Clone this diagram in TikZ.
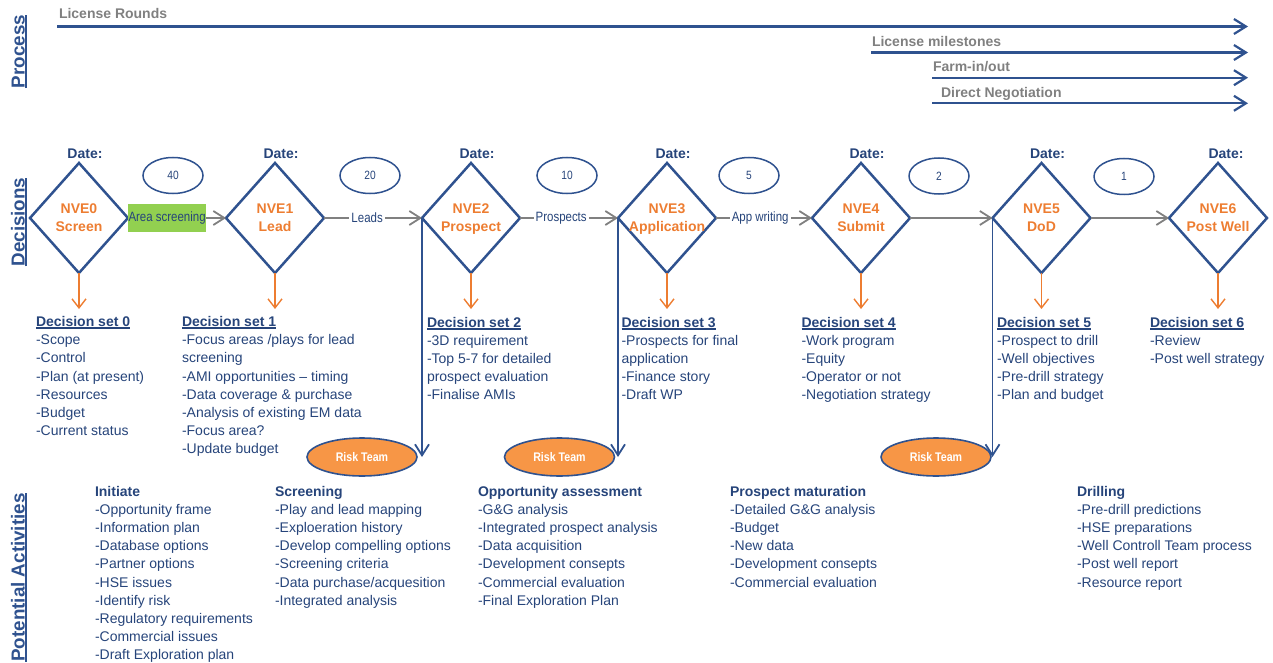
\documentclass[tikz,border=0pt]{standalone}
\usepackage{fontspec}
\setmainfont{Liberation Sans}
\newfontfamily\narrowsf[FakeStretch=0.85]{Liberation Sans}
\usetikzlibrary{shapes.geometric,arrows.meta}

\definecolor{lineblue}{RGB}{47,82,143}
\definecolor{txtblue}{RGB}{38,68,122}
\definecolor{nveorange}{RGB}{237,125,49}
\definecolor{riskorange}{RGB}{247,150,70}
\definecolor{flowgray}{RGB}{128,128,128}
\definecolor{areagreen}{RGB}{146,208,80}

% underline drawn as a rule just below the baseline
\newcommand\ulbox[1]{\setbox0\hbox{#1}\leavevmode\rlap{\vrule width\wd0 height -0.9pt depth 2.5pt}\box0}
% stacked lines, baseline of the block = baseline of the first line
\newcommand\textstack[1]{\vtop{\baselineskip=18.2pt\lineskiplimit=-100pt\lineskip=0pt #1}}
\newcommand\txl[1]{\hbox{#1}}
\newcommand\sethead[1]{\hbox{\bfseries\ulbox{#1}}}
\newcommand\acthead[1]{\hbox{\bfseries #1}}
% two centred lines inside a decision diamond
\newcommand\ctwo[2]{\vtop{\baselineskip=18.4pt\lineskiplimit=-100pt\lineskip=0pt\hbox to 0pt{\hss#1\hss}\hbox to 0pt{\hss#2\hss}}}

\begin{document}
\begin{tikzpicture}[x=1pt,y=-1pt,
  every node/.style={inner sep=0pt, outer sep=0pt},
  track/.style={draw=lineblue, line width=2.2pt, -{Straight Barb[length=12pt,width=15pt]}},
  tracklabel/.style={anchor=base west, text=flowgray, font=\bfseries\fontsize{14}{16}\selectfont},
  sidetitle/.style={rotate=90, anchor=base, text=lineblue, font=\bfseries\fontsize{18.8}{20}\selectfont},
  decision/.style={draw=lineblue, line width=2.5pt, diamond, minimum width=98pt, minimum height=110pt},
  nvetext/.style={anchor=base, text=nveorange, font=\bfseries\fontsize{14}{18.4}\selectfont},
  datetext/.style={anchor=base, text=txtblue, font=\bfseries\fontsize{14}{16}\selectfont},
  count/.style={draw=lineblue, line width=1.5pt, ellipse, minimum width=60pt, minimum height=36pt, text=txtblue, font=\narrowsf\fontsize{12}{14}\selectfont},
  risk/.style={draw=lineblue, line width=1.6pt, ellipse, fill=riskorange, minimum width=110pt, minimum height=38pt, text=white, font=\narrowsf\bfseries\fontsize{12.5}{14}\selectfont},
  flow/.style={draw=flowgray, line width=1.8pt, -{Straight Barb[length=11pt,width=14pt]}},
  flowlabel/.style={fill=white, inner xsep=2pt, inner ysep=1pt, text=txtblue, font=\narrowsf\fontsize{13.5}{15}\selectfont},
  outcome/.style={draw=nveorange, line width=1.4pt, -{Straight Barb[length=9pt,width=14pt]}},
  review/.style={draw=lineblue, line width=1.8pt, -{Straight Barb[length=11pt,width=14pt]}},
  listtext/.style={anchor=base west, text=txtblue, font=\fontsize{14}{18.2}\selectfont}
]
\useasboundingbox (0,0) rectangle (1273,663);

% ---------------- Process ----------------
\node[sidetitle] (tproc) at (24.5,51.5) {\ulbox{Process}};

\coordinate (lrS) at (57,26.5);   \coordinate (lrE) at (1248,26.5);
\coordinate (lmS) at (871,52.5);  \coordinate (lmE) at (1248,52.5);
\coordinate (fiS) at (932,77.7);  \coordinate (fiE) at (1248,77.7);
\coordinate (dnS) at (932,103.3); \coordinate (dnE) at (1248,103.3);
\draw[track] (lrS) -- (lrE);
\draw[track] (lmS) -- (lmE);
\draw[track] (fiS) -- (fiE);
\draw[track] (dnS) -- (dnE);
\node[tracklabel] (lrT) at (59,18.3) {License Rounds};
\node[tracklabel] (lmT) at (872,46.7) {License milestones};
\node[tracklabel] (fiT) at (933,71.7) {Farm-in/out};
\node[tracklabel] (dnT) at (941,98) {Direct Negotiation};

% ---------------- Decisions ----------------
\node[sidetitle] (tdec) at (24.5,222) {\ulbox{Decisions}};

\node[decision] (nve0) at (79,218) {};
\node[decision] (nve1) at (275,218) {};
\node[decision] (nve2) at (471,218) {};
\node[decision] (nve3) at (667,218) {};
\node[decision] (nve4) at (861,218) {};
\node[decision] (nve5) at (1041.5,218) {};
\node[decision] (nve6) at (1218,218) {};

\node[nvetext] (n0) at (79,213.3) {\ctwo{NVE0}{Screen}};
\node[nvetext] (n1) at (275,213.3) {\ctwo{NVE1}{Lead}};
\node[nvetext] (n2) at (471,213.3) {\ctwo{NVE2}{Prospect}};
\node[nvetext] (n3) at (667,213.3) {\ctwo{NVE3}{Application}};
\node[nvetext] (n4) at (861,213.3) {\ctwo{NVE4}{Submit}};
\node[nvetext] (n5) at (1041.5,213.3) {\ctwo{NVE5}{DoD}};
\node[nvetext] (n6) at (1218,213.3) {\ctwo{NVE6}{Post Well}};

\node[datetext] (d0) at (85,158.3) {Date:};
\node[datetext] (d1) at (281,158.3) {Date:};
\node[datetext] (d2) at (477,158.3) {Date:};
\node[datetext] (d3) at (673,158.3) {Date:};
\node[datetext] (d4) at (867,158.3) {Date:};
\node[datetext] (d5) at (1047.5,158.3) {Date:};
\node[datetext] (d6) at (1226,158.3) {Date:};

\node[count] (c0) at (173,175.5) {40};
\node[count] (c1) at (370,175.5) {20};
\node[count] (c2) at (567,175.5) {10};
\node[count] (c3) at (749,175.5) {5};
\node[count] (c4) at (939,176) {2};
\node[count] (c5) at (1124,176.5) {1};

\draw[flow] (nve0.east) -- node[flowlabel, pos=0, anchor=west, fill=areagreen, minimum height=28pt, inner xsep=0.5pt] (l0) {Area screening} (nve1.west);
\draw[flow] (nve1.east) -- node[flowlabel, pos=0.44] (l1) {Leads} (nve2.west);
\draw[flow] (nve2.east) -- node[flowlabel, pos=0.42] (l2) {Prospects} (nve3.west);
\draw[flow] (nve3.east) -- node[flowlabel, pos=0.46] (l3) {App writing} (nve4.west);
\draw[flow] (nve4.east) -- (nve5.west);
\draw[flow] (nve5.east) -- (nve6.west);

% decision outputs
\coordinate (o0) at (79,309);
\coordinate (o1) at (275,309);
\coordinate (o2) at (471,309);
\coordinate (o3) at (667,309);
\coordinate (o4) at (861,309);
\coordinate (o5) at (1041.5,309);
\coordinate (o6) at (1218,309);
\draw[outcome] (nve0.south) -- (o0);
\draw[outcome] (nve1.south) -- (o1);
\draw[outcome] (nve2.south) -- (o2);
\draw[outcome] (nve3.south) -- (o3);
\draw[outcome] (nve4.south) -- (o4);
\draw[outcome] (nve5.south) -- (o5);
\draw[outcome] (nve6.south) -- (o6);

% risk reviews
\node[risk] (rt1) at (362,457) {Risk Team};
\node[risk] (rt2) at (559.5,457) {Risk Team};
\node[risk] (rt3) at (936,457) {Risk Team};
\draw[review] (nve2.west) -- (nve2.west |- rt1.east);
\draw[review] (nve3.west) -- (nve3.west |- rt2.east);
\draw[review] (nve5.west) -- (nve5.west |- rt3.east);

% decision sets
\node[listtext] (ds0) at (36,326.5) {\textstack{\sethead{Decision set 0}\txl{-Scope}\txl{-Control}\txl{-Plan (at present)}\txl{-Resources}\txl{-Budget}\txl{-Current status}}};
\node[listtext] (ds1) at (182,326.5) {\textstack{\sethead{Decision set 1}\txl{-Focus areas /plays for lead}\txl{screening}\txl{-AMI opportunities – timing}\txl{-Data coverage \& purchase}\txl{-Analysis of existing EM data}\txl{-Focus area?}\txl{-Update budget}}};
\node[listtext] (ds2) at (427,327) {\textstack{\sethead{Decision set 2}\txl{-3D requirement}\txl{-Top 5-7 for detailed}\txl{prospect evaluation}\txl{-Finalise AMIs}}};
\node[listtext] (ds3) at (621.5,327) {\textstack{\sethead{Decision set 3}\txl{-Prospects for final}\txl{application}\txl{-Finance story}\txl{-Draft WP}}};
\node[listtext] (ds4) at (801.5,327) {\textstack{\sethead{Decision set 4}\txl{-Work program}\txl{-Equity}\txl{-Operator or not}\txl{-Negotiation strategy}}};
\node[listtext] (ds5) at (997,327) {\textstack{\sethead{Decision set 5}\txl{-Prospect to drill}\txl{-Well objectives}\txl{-Pre-drill strategy}\txl{-Plan and budget}}};
\node[listtext] (ds6) at (1150,327) {\textstack{\sethead{Decision set 6}\txl{-Review}\txl{-Post well strategy}}};

% ---------------- Potential Activities ----------------
\node[sidetitle] (tact) at (24.5,577.5) {\ulbox{Potential Activities}};

\node[listtext] (a0) at (95,496) {\textstack{\acthead{Initiate}\txl{-Opportunity frame}\txl{-Information plan}\txl{-Database options}\txl{-Partner options}\txl{-HSE issues}\txl{-Identify risk}\txl{-Regulatory requirements}\txl{-Commercial issues}\txl{-Draft Exploration plan}}};
\node[listtext] (a1) at (275,496) {\textstack{\acthead{Screening}\txl{-Play and lead mapping}\txl{-Exploeration history}\txl{-Develop compelling options}\txl{-Screening criteria}\txl{-Data purchase/acquesition}\txl{-Integrated analysis}}};
\node[listtext] (a2) at (478,496) {\textstack{\acthead{Opportunity assessment}\txl{-G\&G analysis}\txl{-Integrated prospect analysis}\txl{-Data acquisition}\txl{-Development consepts}\txl{-Commercial evaluation}\txl{-Final Exploration Plan}}};
\node[listtext] (a3) at (730,496) {\textstack{\acthead{Prospect maturation}\txl{-Detailed G\&G analysis}\txl{-Budget}\txl{-New data}\txl{-Development consepts}\txl{-Commercial evaluation}}};
\node[listtext] (a4) at (1077,496) {\textstack{\acthead{Drilling}\txl{-Pre-drill predictions}\txl{-HSE preparations}\txl{-Well Controll Team process}\txl{-Post well report}\txl{-Resource report}}};
\end{tikzpicture}
\end{document}
